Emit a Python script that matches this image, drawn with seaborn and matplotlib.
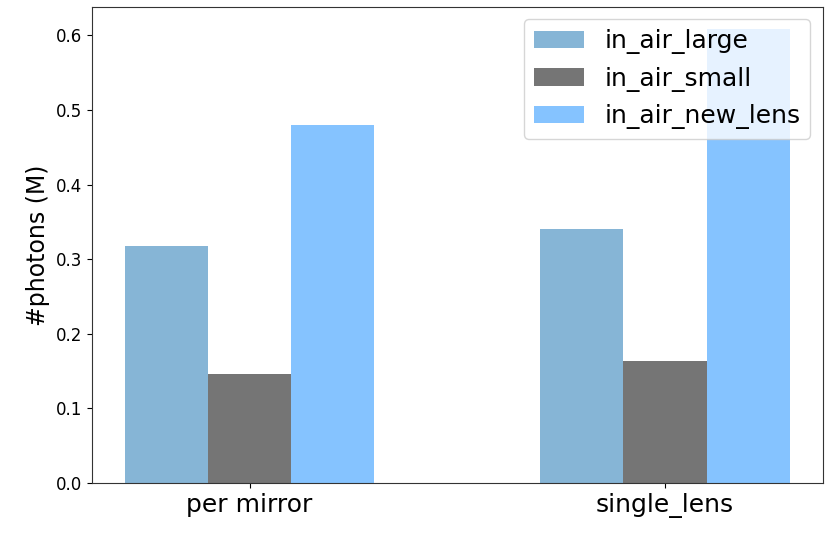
import matplotlib
matplotlib.use("Agg")
import matplotlib.pyplot as plt
import seaborn as sns
import pandas as pd

# Photon counts (millions) per configuration
categories = ["per mirror", "single_lens"]
in_air_large = [0.318, 0.341]
in_air_small = [0.146, 0.163]
in_air_new_lens = [0.480, 0.608]
series_names = ["in_air_large", "in_air_small", "in_air_new_lens"]
series_colors = ["tab:blue", "black", "dodgerblue"]

df = pd.DataFrame({
    "setup": categories * 3,
    "series": [s for s in series_names for _ in categories],
    "photons": in_air_large + in_air_small + in_air_new_lens,
})

sns.set_style("ticks")
plt.rcParams["font.family"] = ["DejaVu Sans"]
plt.rcParams["text.color"] = "black"
plt.rcParams["xtick.color"] = "black"
plt.rcParams["ytick.color"] = "black"
plt.rcParams["axes.labelcolor"] = "black"

fig = plt.figure(figsize=(8.27, 5.34), dpi=100)
ax = fig.add_axes([0.111, 0.0955, 0.884, 0.8915])

sns.barplot(
    data=df, x="setup", y="photons", hue="series",
    order=categories, hue_order=series_names,
    palette=dict(zip(series_names, series_colors)), saturation=1,
    width=0.6, gap=0, alpha=0.54, linewidth=0, errorbar=None, ax=ax,
)

ax.set_xlim(-0.38, 1.38)
ax.set_ylim(0, 0.638)
ax.set_xlabel("")
ax.set_ylabel("#photons (M)", fontsize=17)
ax.tick_params(axis="x", labelsize=18)
ax.tick_params(axis="y", labelsize=12)
for side in ["top", "right", "left", "bottom"]:
    ax.spines[side].set_visible(True)
    ax.spines[side].set_color("#333333")

ax.legend(loc="upper right", fontsize=18, title=None)

fig.savefig("out.png", dpi=100)
